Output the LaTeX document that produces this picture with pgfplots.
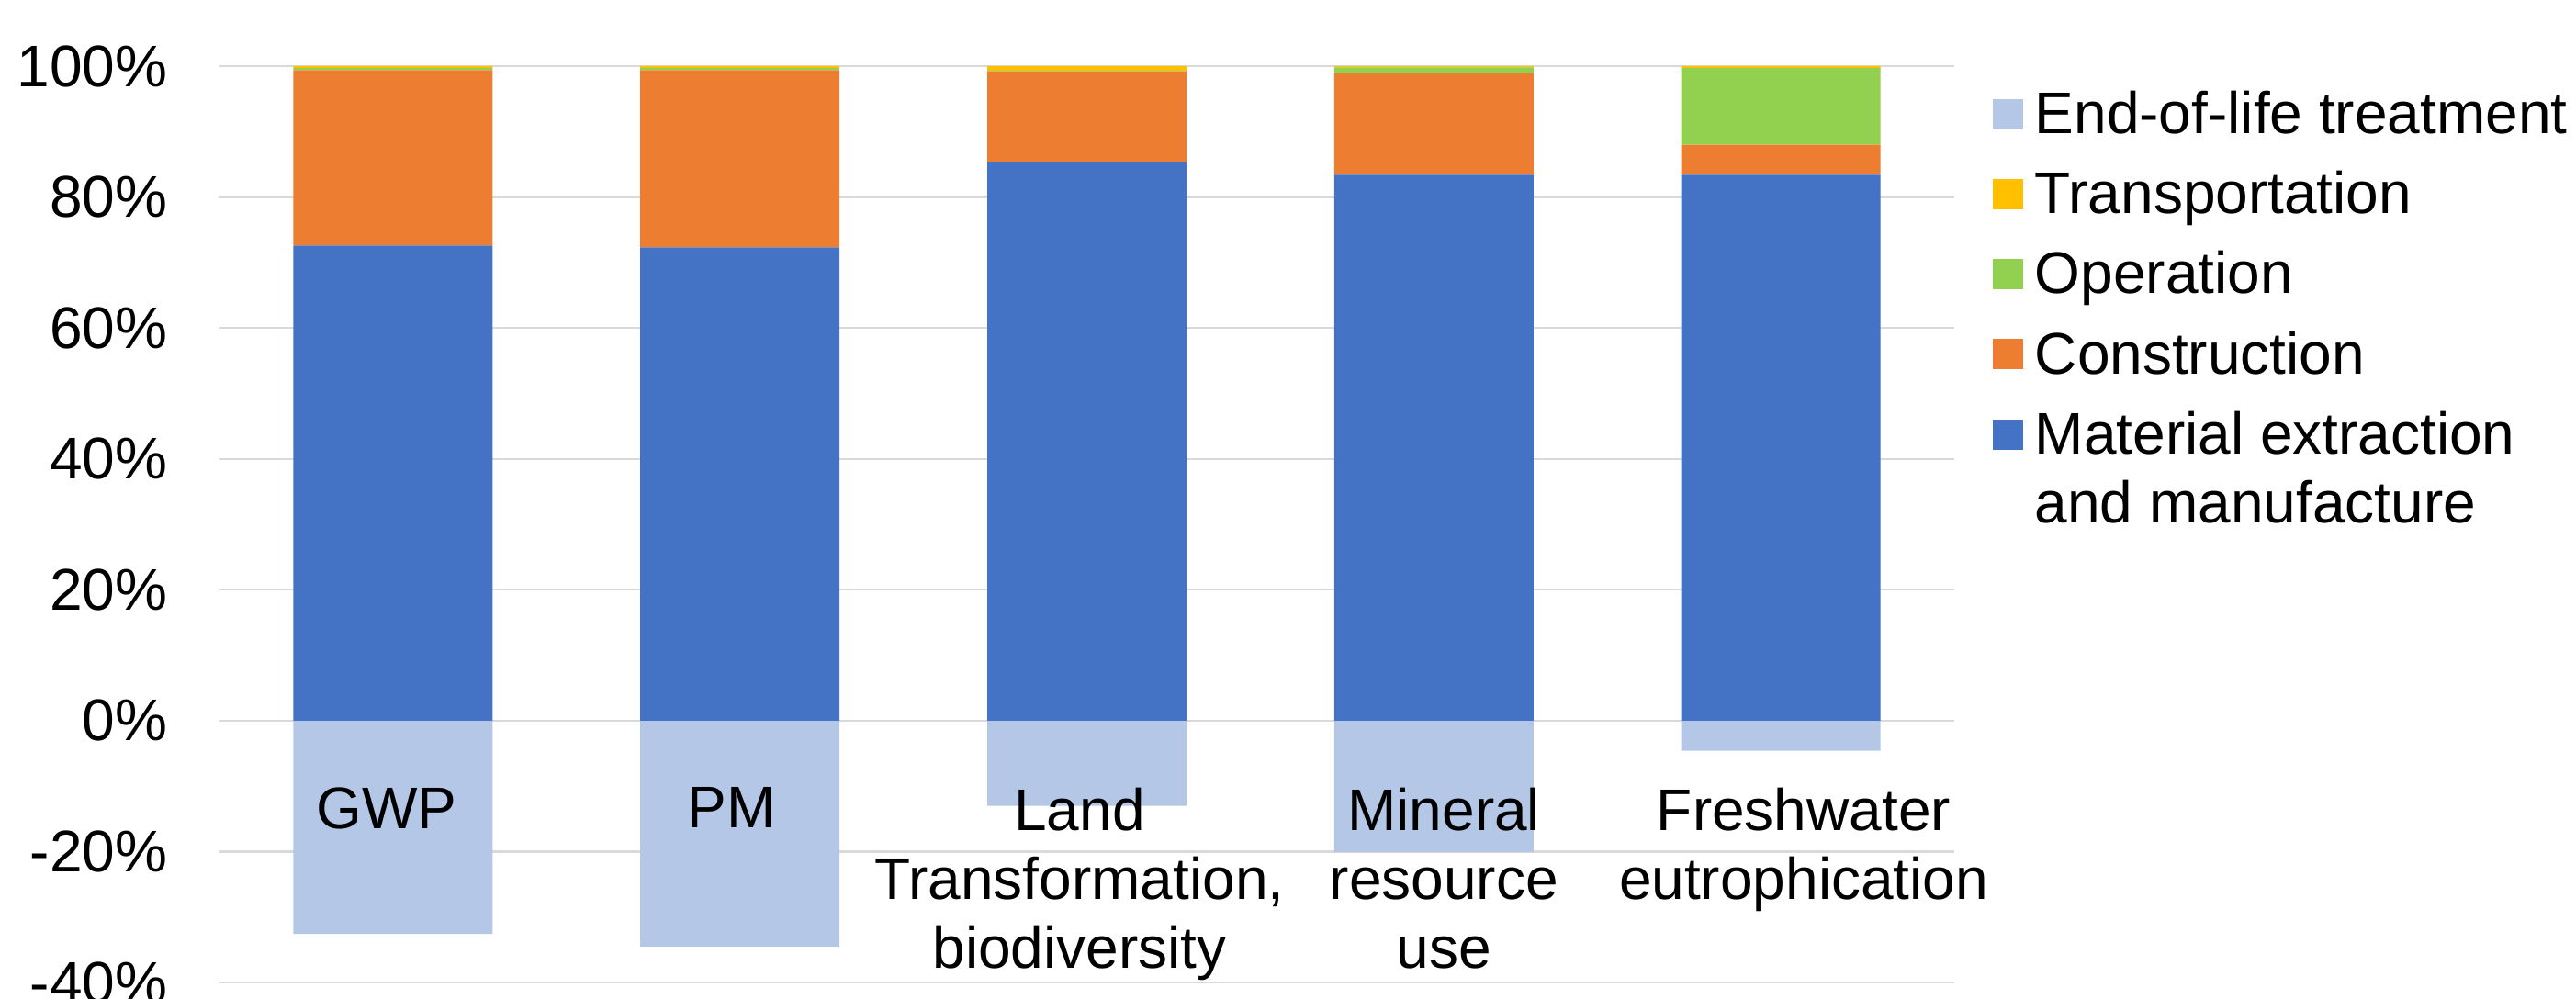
\documentclass[border=0pt]{standalone}
\usepackage{fontspec}
\setmainfont{Liberation Sans}
\usepackage{pgfplots}
\pgfplotsset{compat=1.18}
\definecolor{cmat}{HTML}{4472C4}
\definecolor{ccon}{HTML}{ED7D31}
\definecolor{cope}{HTML}{92D050}
\definecolor{ctra}{HTML}{FFC000}
\definecolor{ceol}{HTML}{B4C7E7}
\definecolor{gridc}{HTML}{D9D9D9}
\newcommand\lfont{\fontsize{16}{18.75}\selectfont}
\newcommand\lstrut{\rule[-4pt]{0pt}{16pt}}
\pgfplotsset{
  sqlegend/.style={legend image code/.code={\fill[##1] (0pt,1.2pt) rectangle (8.25pt,9.45pt);}},
  base/.style={scale only axis, width=472.25pt, height=249.5pt,
    at={(59.75pt,4.5pt)}, anchor=south west,
    xmin=-0.5, xmax=4.5, ymin=-40, ymax=100,
    axis line style={draw=none}, major tick length=0pt},
}
\begin{document}
\begin{tikzpicture}
\useasboundingbox (0,0) rectangle (701.25pt,272pt);
\begin{axis}[base, ybar, bar width=54.25pt, bar shift=0pt,
  xtick=\empty,
  ytick={-40,-20,0,20,40,60,80,100},
  yticklabels={-40\%,-20\%,0\%,20\%,40\%,60\%,80\%,100\%},
  ymajorgrids, grid style={draw=gridc, line width=0.55pt},
  yticklabel style={font=\lfont, anchor=east, inner sep=0pt, xshift=-14pt}]
\addplot[fill=ceol, draw=none] coordinates {(0,-32.6) (1,-34.5) (2,-13.0) (3,-20.1) (4,-4.6)};
\end{axis}
\begin{axis}[base, ybar stacked, bar width=54.25pt,
  ytick=\empty,
  xtick={-0.019,0.976,1.979,3.029,4.066},
  xticklabels={GWP, PM, {Land\\Transformation,\\biodiversity}, {Mineral\\resource\\use}, {Freshwater\\eutrophication}},
  xticklabel style={font=\lfont, align=center, anchor=north, inner sep=0pt, yshift=53.25pt},
  reverse legend,
  legend style={draw=none, fill=none, at={(1,1)}, anchor=north west,
    xshift=10.5pt, yshift=-6.4pt, inner sep=0pt, outer sep=0pt,
    row sep=8.3pt, column sep=3.2pt, font=\lfont,
    nodes={inner sep=0pt}, cells={anchor=base west}}]
\addplot[fill=cmat, draw=none, sqlegend] coordinates {(0,72.6) (1,72.3) (2,85.4) (3,83.4) (4,83.4)};
\addlegendentry{\vtop{\hbox{\lstrut Material extraction}\hbox{and manufacture}}}
\addplot[fill=ccon, draw=none, sqlegend] coordinates {(0,26.8) (1,27.1) (2,13.8) (3,15.5) (4,4.6)};
\addlegendentry{\lstrut Construction}
\addplot[fill=cope, draw=none, sqlegend] coordinates {(0,0.3) (1,0.3) (2,0.1) (3,0.9) (4,11.7)};
\addlegendentry{\lstrut Operation}
\addplot[fill=ctra, draw=none, sqlegend] coordinates {(0,0.3) (1,0.3) (2,0.7) (3,0.2) (4,0.3)};
\addlegendentry{\lstrut Transportation}
\addlegendimage{fill=ceol, draw=none, sqlegend}
\addlegendentry{\lstrut End-of-life treatment}
\end{axis}
\end{tikzpicture}
\end{document}
